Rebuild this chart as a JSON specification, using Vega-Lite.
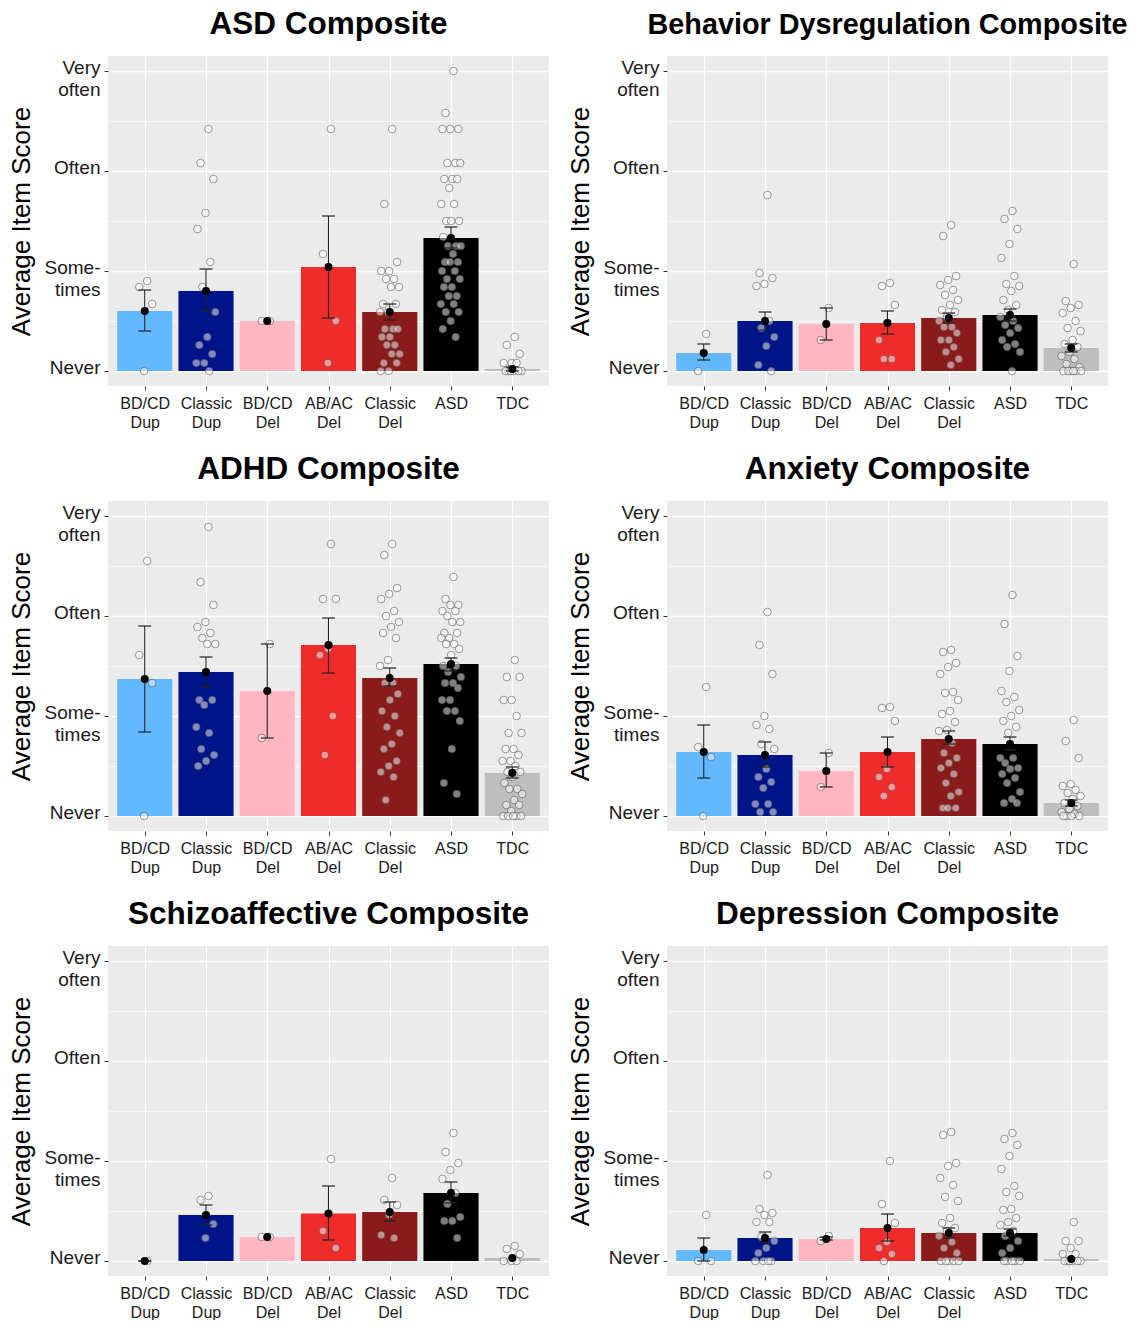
{
"$schema":"https://vega.github.io/schema/vega-lite/v6.json",
"padding":{"left":8,"top":8,"right":0,"bottom":0},
"data":{"values":[
{"p":"ASD","g":"BD/CD Dup","m":0.60,"lo":0.40,"hi":0.81},
{"p":"ASD","g":"Classic Dup","m":0.80,"lo":0.60,"hi":1.02},
{"p":"ASD","g":"BD/CD Del","m":0.50},
{"p":"ASD","g":"AB/AC Del","m":1.04,"lo":0.53,"hi":1.55},
{"p":"ASD","g":"Classic Del","m":0.59,"lo":0.51,"hi":0.67},
{"p":"ASD","g":"ASD","m":1.33,"lo":1.23,"hi":1.44},
{"p":"ASD","g":"TDC","m":0.02,"lo":0.0,"hi":0.04},
{"p":"BDR","g":"BD/CD Dup","m":0.18,"lo":0.11,"hi":0.27},
{"p":"BDR","g":"Classic Dup","m":0.50,"lo":0.41,"hi":0.59},
{"p":"BDR","g":"BD/CD Del","m":0.47,"lo":0.31,"hi":0.63},
{"p":"BDR","g":"AB/AC Del","m":0.48,"lo":0.37,"hi":0.60},
{"p":"BDR","g":"Classic Del","m":0.53,"lo":0.48,"hi":0.58},
{"p":"BDR","g":"ASD","m":0.56,"lo":0.50,"hi":0.62},
{"p":"BDR","g":"TDC","m":0.23,"lo":0.19,"hi":0.27},
{"p":"ADHD","g":"BD/CD Dup","m":1.37,"lo":0.84,"hi":1.90},
{"p":"ADHD","g":"Classic Dup","m":1.44,"lo":1.29,"hi":1.59},
{"p":"ADHD","g":"BD/CD Del","m":1.25,"lo":0.78,"hi":1.72},
{"p":"ADHD","g":"AB/AC Del","m":1.71,"lo":1.43,"hi":1.98},
{"p":"ADHD","g":"Classic Del","m":1.38,"lo":1.30,"hi":1.48},
{"p":"ADHD","g":"ASD","m":1.52,"lo":1.45,"hi":1.58},
{"p":"ADHD","g":"TDC","m":0.43,"lo":0.38,"hi":0.49},
{"p":"ANX","g":"BD/CD Dup","m":0.64,"lo":0.38,"hi":0.91},
{"p":"ANX","g":"Classic Dup","m":0.61,"lo":0.49,"hi":0.74},
{"p":"ANX","g":"BD/CD Del","m":0.45,"lo":0.29,"hi":0.63},
{"p":"ANX","g":"AB/AC Del","m":0.64,"lo":0.49,"hi":0.79},
{"p":"ANX","g":"Classic Del","m":0.77,"lo":0.72,"hi":0.85},
{"p":"ANX","g":"ASD","m":0.72,"lo":0.66,"hi":0.79},
{"p":"ANX","g":"TDC","m":0.13,"lo":0.10,"hi":0.16},
{"p":"SCZ","g":"BD/CD Dup","m":0.0,"lo":0.0,"hi":0.0},
{"p":"SCZ","g":"Classic Dup","m":0.46,"lo":0.36,"hi":0.56},
{"p":"SCZ","g":"BD/CD Del","m":0.24},
{"p":"SCZ","g":"AB/AC Del","m":0.475,"lo":0.21,"hi":0.75},
{"p":"SCZ","g":"Classic Del","m":0.49,"lo":0.40,"hi":0.59},
{"p":"SCZ","g":"ASD","m":0.68,"lo":0.58,"hi":0.79},
{"p":"SCZ","g":"TDC","m":0.03},
{"p":"DEP","g":"BD/CD Dup","m":0.11,"lo":0.0,"hi":0.23},
{"p":"DEP","g":"Classic Dup","m":0.23,"lo":0.18,"hi":0.29},
{"p":"DEP","g":"BD/CD Del","m":0.22,"lo":0.21,"hi":0.24},
{"p":"DEP","g":"AB/AC Del","m":0.33,"lo":0.20,"hi":0.47},
{"p":"DEP","g":"Classic Del","m":0.28,"lo":0.23,"hi":0.33},
{"p":"DEP","g":"ASD","m":0.28,"lo":0.25,"hi":0.32},
{"p":"DEP","g":"TDC","m":0.02},

{"p":"ASD","g":"BD/CD Dup","v":0.90},{"p":"ASD","g":"BD/CD Dup","v":0.84},{"p":"ASD","g":"BD/CD Dup","v":0.67},{"p":"ASD","g":"BD/CD Dup","v":0},
{"p":"ASD","g":"Classic Dup","v":2.42},{"p":"ASD","g":"Classic Dup","v":2.08},{"p":"ASD","g":"Classic Dup","v":1.92},{"p":"ASD","g":"Classic Dup","v":1.58},{"p":"ASD","g":"Classic Dup","v":1.42},{"p":"ASD","g":"Classic Dup","v":1.09},{"p":"ASD","g":"Classic Dup","v":0.84},{"p":"ASD","g":"Classic Dup","v":0.59},{"p":"ASD","g":"Classic Dup","v":0.34},{"p":"ASD","g":"Classic Dup","v":0.26},{"p":"ASD","g":"Classic Dup","v":0.17},{"p":"ASD","g":"Classic Dup","v":0.08},{"p":"ASD","g":"Classic Dup","v":0.08},{"p":"ASD","g":"Classic Dup","v":0},
{"p":"ASD","g":"BD/CD Del","v":0.5},{"p":"ASD","g":"BD/CD Del","v":0.5},
{"p":"ASD","g":"AB/AC Del","v":2.42},{"p":"ASD","g":"AB/AC Del","v":1.17},{"p":"ASD","g":"AB/AC Del","v":0.5},{"p":"ASD","g":"AB/AC Del","v":0.08},
{"p":"ASD","g":"Classic Del","v":2.42},{"p":"ASD","g":"Classic Del","v":1.67},{"p":"ASD","g":"Classic Del","v":1.09},{"p":"ASD","g":"Classic Del","v":1.0},{"p":"ASD","g":"Classic Del","v":1.0},{"p":"ASD","g":"Classic Del","v":0.92},{"p":"ASD","g":"Classic Del","v":0.92},{"p":"ASD","g":"Classic Del","v":0.84},{"p":"ASD","g":"Classic Del","v":0.84},{"p":"ASD","g":"Classic Del","v":0.67},{"p":"ASD","g":"Classic Del","v":0.67},{"p":"ASD","g":"Classic Del","v":0.59},{"p":"ASD","g":"Classic Del","v":0.59},{"p":"ASD","g":"Classic Del","v":0.42},{"p":"ASD","g":"Classic Del","v":0.42},{"p":"ASD","g":"Classic Del","v":0.42},{"p":"ASD","g":"Classic Del","v":0.34},{"p":"ASD","g":"Classic Del","v":0.34},{"p":"ASD","g":"Classic Del","v":0.26},{"p":"ASD","g":"Classic Del","v":0.26},{"p":"ASD","g":"Classic Del","v":0.17},{"p":"ASD","g":"Classic Del","v":0.17},{"p":"ASD","g":"Classic Del","v":0.08},{"p":"ASD","g":"Classic Del","v":0.08},{"p":"ASD","g":"Classic Del","v":0},{"p":"ASD","g":"Classic Del","v":0},
{"p":"ASD","g":"ASD","v":3.0},{"p":"ASD","g":"ASD","v":2.58},{"p":"ASD","g":"ASD","v":2.42},{"p":"ASD","g":"ASD","v":2.42},{"p":"ASD","g":"ASD","v":2.42},{"p":"ASD","g":"ASD","v":2.08},{"p":"ASD","g":"ASD","v":2.08},{"p":"ASD","g":"ASD","v":2.08},{"p":"ASD","g":"ASD","v":1.92},{"p":"ASD","g":"ASD","v":1.92},{"p":"ASD","g":"ASD","v":1.92},{"p":"ASD","g":"ASD","v":1.83},{"p":"ASD","g":"ASD","v":1.67},{"p":"ASD","g":"ASD","v":1.67},{"p":"ASD","g":"ASD","v":1.5},{"p":"ASD","g":"ASD","v":1.5},{"p":"ASD","g":"ASD","v":1.5},{"p":"ASD","g":"ASD","v":1.34},{"p":"ASD","g":"ASD","v":1.25},{"p":"ASD","g":"ASD","v":1.25},{"p":"ASD","g":"ASD","v":1.25},{"p":"ASD","g":"ASD","v":1.17},{"p":"ASD","g":"ASD","v":1.09},{"p":"ASD","g":"ASD","v":1.09},{"p":"ASD","g":"ASD","v":1.09},{"p":"ASD","g":"ASD","v":1.0},{"p":"ASD","g":"ASD","v":1.0},{"p":"ASD","g":"ASD","v":0.92},{"p":"ASD","g":"ASD","v":0.92},{"p":"ASD","g":"ASD","v":0.84},{"p":"ASD","g":"ASD","v":0.84},{"p":"ASD","g":"ASD","v":0.75},{"p":"ASD","g":"ASD","v":0.75},{"p":"ASD","g":"ASD","v":0.67},{"p":"ASD","g":"ASD","v":0.67},{"p":"ASD","g":"ASD","v":0.59},{"p":"ASD","g":"ASD","v":0.59},{"p":"ASD","g":"ASD","v":0.5},{"p":"ASD","g":"ASD","v":0.42},{"p":"ASD","g":"ASD","v":0.34},
{"p":"ASD","g":"TDC","v":0.34},{"p":"ASD","g":"TDC","v":0.26},{"p":"ASD","g":"TDC","v":0.17},{"p":"ASD","g":"TDC","v":0.08},{"p":"ASD","g":"TDC","v":0.08},{"p":"ASD","g":"TDC","v":0.08},{"p":"ASD","g":"TDC","v":0},{"p":"ASD","g":"TDC","v":0},{"p":"ASD","g":"TDC","v":0},{"p":"ASD","g":"TDC","v":0},{"p":"ASD","g":"TDC","v":0},{"p":"ASD","g":"TDC","v":0},

{"p":"BDR","g":"BD/CD Dup","v":0.37},{"p":"BDR","g":"BD/CD Dup","v":0},
{"p":"BDR","g":"Classic Dup","v":1.76},{"p":"BDR","g":"Classic Dup","v":0.98},{"p":"BDR","g":"Classic Dup","v":0.93},{"p":"BDR","g":"Classic Dup","v":0.87},{"p":"BDR","g":"Classic Dup","v":0.85},{"p":"BDR","g":"Classic Dup","v":0.5},{"p":"BDR","g":"Classic Dup","v":0.43},{"p":"BDR","g":"Classic Dup","v":0.34},{"p":"BDR","g":"Classic Dup","v":0.25},{"p":"BDR","g":"Classic Dup","v":0.06},{"p":"BDR","g":"Classic Dup","v":0},
{"p":"BDR","g":"BD/CD Del","v":0.63},{"p":"BDR","g":"BD/CD Del","v":0.31},
{"p":"BDR","g":"AB/AC Del","v":0.88},{"p":"BDR","g":"AB/AC Del","v":0.85},{"p":"BDR","g":"AB/AC Del","v":0.66},{"p":"BDR","g":"AB/AC Del","v":0.48},{"p":"BDR","g":"AB/AC Del","v":0.31},{"p":"BDR","g":"AB/AC Del","v":0.12},{"p":"BDR","g":"AB/AC Del","v":0.12},
{"p":"BDR","g":"Classic Del","v":1.46},{"p":"BDR","g":"Classic Del","v":1.35},{"p":"BDR","g":"Classic Del","v":0.95},{"p":"BDR","g":"Classic Del","v":0.91},{"p":"BDR","g":"Classic Del","v":0.86},{"p":"BDR","g":"Classic Del","v":0.81},{"p":"BDR","g":"Classic Del","v":0.76},{"p":"BDR","g":"Classic Del","v":0.71},{"p":"BDR","g":"Classic Del","v":0.66},{"p":"BDR","g":"Classic Del","v":0.61},{"p":"BDR","g":"Classic Del","v":0.59},{"p":"BDR","g":"Classic Del","v":0.54},{"p":"BDR","g":"Classic Del","v":0.5},{"p":"BDR","g":"Classic Del","v":0.44},{"p":"BDR","g":"Classic Del","v":0.44},{"p":"BDR","g":"Classic Del","v":0.38},{"p":"BDR","g":"Classic Del","v":0.31},{"p":"BDR","g":"Classic Del","v":0.31},{"p":"BDR","g":"Classic Del","v":0.24},{"p":"BDR","g":"Classic Del","v":0.19},{"p":"BDR","g":"Classic Del","v":0.12},{"p":"BDR","g":"Classic Del","v":0.06},
{"p":"BDR","g":"ASD","v":1.6},{"p":"BDR","g":"ASD","v":1.52},{"p":"BDR","g":"ASD","v":1.42},{"p":"BDR","g":"ASD","v":1.27},{"p":"BDR","g":"ASD","v":1.13},{"p":"BDR","g":"ASD","v":0.95},{"p":"BDR","g":"ASD","v":0.87},{"p":"BDR","g":"ASD","v":0.85},{"p":"BDR","g":"ASD","v":0.8},{"p":"BDR","g":"ASD","v":0.71},{"p":"BDR","g":"ASD","v":0.66},{"p":"BDR","g":"ASD","v":0.61},{"p":"BDR","g":"ASD","v":0.54},{"p":"BDR","g":"ASD","v":0.5},{"p":"BDR","g":"ASD","v":0.46},{"p":"BDR","g":"ASD","v":0.43},{"p":"BDR","g":"ASD","v":0.38},{"p":"BDR","g":"ASD","v":0.31},{"p":"BDR","g":"ASD","v":0.27},{"p":"BDR","g":"ASD","v":0.24},{"p":"BDR","g":"ASD","v":0.19},{"p":"BDR","g":"ASD","v":0},
{"p":"BDR","g":"TDC","v":1.07},{"p":"BDR","g":"TDC","v":0.7},{"p":"BDR","g":"TDC","v":0.66},{"p":"BDR","g":"TDC","v":0.63},{"p":"BDR","g":"TDC","v":0.58},{"p":"BDR","g":"TDC","v":0.5},{"p":"BDR","g":"TDC","v":0.43},{"p":"BDR","g":"TDC","v":0.4},{"p":"BDR","g":"TDC","v":0.31},{"p":"BDR","g":"TDC","v":0.27},{"p":"BDR","g":"TDC","v":0.24},{"p":"BDR","g":"TDC","v":0.19},{"p":"BDR","g":"TDC","v":0.15},{"p":"BDR","g":"TDC","v":0.12},{"p":"BDR","g":"TDC","v":0.07},{"p":"BDR","g":"TDC","v":0.04},{"p":"BDR","g":"TDC","v":0},{"p":"BDR","g":"TDC","v":0},{"p":"BDR","g":"TDC","v":0},{"p":"BDR","g":"TDC","v":0},{"p":"BDR","g":"TDC","v":0},{"p":"BDR","g":"TDC","v":0},

{"p":"ADHD","g":"BD/CD Dup","v":2.55},{"p":"ADHD","g":"BD/CD Dup","v":1.61},{"p":"ADHD","g":"BD/CD Dup","v":1.33},{"p":"ADHD","g":"BD/CD Dup","v":0},
{"p":"ADHD","g":"Classic Dup","v":2.89},{"p":"ADHD","g":"Classic Dup","v":2.34},{"p":"ADHD","g":"Classic Dup","v":2.11},{"p":"ADHD","g":"Classic Dup","v":1.94},{"p":"ADHD","g":"Classic Dup","v":1.89},{"p":"ADHD","g":"Classic Dup","v":1.83},{"p":"ADHD","g":"Classic Dup","v":1.78},{"p":"ADHD","g":"Classic Dup","v":1.72},{"p":"ADHD","g":"Classic Dup","v":1.72},{"p":"ADHD","g":"Classic Dup","v":1.16},{"p":"ADHD","g":"Classic Dup","v":1.16},{"p":"ADHD","g":"Classic Dup","v":1.11},{"p":"ADHD","g":"Classic Dup","v":0.89},{"p":"ADHD","g":"Classic Dup","v":0.83},{"p":"ADHD","g":"Classic Dup","v":0.67},{"p":"ADHD","g":"Classic Dup","v":0.61},{"p":"ADHD","g":"Classic Dup","v":0.55},{"p":"ADHD","g":"Classic Dup","v":0.5},
{"p":"ADHD","g":"BD/CD Del","v":1.72},{"p":"ADHD","g":"BD/CD Del","v":0.78},
{"p":"ADHD","g":"AB/AC Del","v":2.72},{"p":"ADHD","g":"AB/AC Del","v":2.17},{"p":"ADHD","g":"AB/AC Del","v":2.17},{"p":"ADHD","g":"AB/AC Del","v":1.67},{"p":"ADHD","g":"AB/AC Del","v":1.61},{"p":"ADHD","g":"AB/AC Del","v":1.0},{"p":"ADHD","g":"AB/AC Del","v":0.61},
{"p":"ADHD","g":"Classic Del","v":2.72},{"p":"ADHD","g":"Classic Del","v":2.61},{"p":"ADHD","g":"Classic Del","v":2.28},{"p":"ADHD","g":"Classic Del","v":2.22},{"p":"ADHD","g":"Classic Del","v":2.17},{"p":"ADHD","g":"Classic Del","v":2.05},{"p":"ADHD","g":"Classic Del","v":2.0},{"p":"ADHD","g":"Classic Del","v":1.94},{"p":"ADHD","g":"Classic Del","v":1.89},{"p":"ADHD","g":"Classic Del","v":1.83},{"p":"ADHD","g":"Classic Del","v":1.78},{"p":"ADHD","g":"Classic Del","v":1.56},{"p":"ADHD","g":"Classic Del","v":1.5},{"p":"ADHD","g":"Classic Del","v":1.33},{"p":"ADHD","g":"Classic Del","v":1.33},{"p":"ADHD","g":"Classic Del","v":1.22},{"p":"ADHD","g":"Classic Del","v":1.16},{"p":"ADHD","g":"Classic Del","v":1.05},{"p":"ADHD","g":"Classic Del","v":1.0},{"p":"ADHD","g":"Classic Del","v":0.89},{"p":"ADHD","g":"Classic Del","v":0.83},{"p":"ADHD","g":"Classic Del","v":0.72},{"p":"ADHD","g":"Classic Del","v":0.67},{"p":"ADHD","g":"Classic Del","v":0.55},{"p":"ADHD","g":"Classic Del","v":0.5},{"p":"ADHD","g":"Classic Del","v":0.44},{"p":"ADHD","g":"Classic Del","v":0.39},{"p":"ADHD","g":"Classic Del","v":0.16},
{"p":"ADHD","g":"ASD","v":2.39},{"p":"ADHD","g":"ASD","v":2.17},{"p":"ADHD","g":"ASD","v":2.11},{"p":"ADHD","g":"ASD","v":2.11},{"p":"ADHD","g":"ASD","v":2.05},{"p":"ADHD","g":"ASD","v":2.05},{"p":"ADHD","g":"ASD","v":2.0},{"p":"ADHD","g":"ASD","v":1.94},{"p":"ADHD","g":"ASD","v":1.94},{"p":"ADHD","g":"ASD","v":1.83},{"p":"ADHD","g":"ASD","v":1.83},{"p":"ADHD","g":"ASD","v":1.78},{"p":"ADHD","g":"ASD","v":1.78},{"p":"ADHD","g":"ASD","v":1.72},{"p":"ADHD","g":"ASD","v":1.72},{"p":"ADHD","g":"ASD","v":1.67},{"p":"ADHD","g":"ASD","v":1.61},{"p":"ADHD","g":"ASD","v":1.5},{"p":"ADHD","g":"ASD","v":1.5},{"p":"ADHD","g":"ASD","v":1.44},{"p":"ADHD","g":"ASD","v":1.39},{"p":"ADHD","g":"ASD","v":1.33},{"p":"ADHD","g":"ASD","v":1.33},{"p":"ADHD","g":"ASD","v":1.28},{"p":"ADHD","g":"ASD","v":1.16},{"p":"ADHD","g":"ASD","v":1.16},{"p":"ADHD","g":"ASD","v":1.05},{"p":"ADHD","g":"ASD","v":1.05},{"p":"ADHD","g":"ASD","v":0.95},{"p":"ADHD","g":"ASD","v":0.67},{"p":"ADHD","g":"ASD","v":0.33},{"p":"ADHD","g":"ASD","v":0.22},
{"p":"ADHD","g":"TDC","v":1.56},{"p":"ADHD","g":"TDC","v":1.39},{"p":"ADHD","g":"TDC","v":1.39},{"p":"ADHD","g":"TDC","v":1.16},{"p":"ADHD","g":"TDC","v":1.16},{"p":"ADHD","g":"TDC","v":1.0},{"p":"ADHD","g":"TDC","v":0.83},{"p":"ADHD","g":"TDC","v":0.83},{"p":"ADHD","g":"TDC","v":0.67},{"p":"ADHD","g":"TDC","v":0.67},{"p":"ADHD","g":"TDC","v":0.61},{"p":"ADHD","g":"TDC","v":0.55},{"p":"ADHD","g":"TDC","v":0.55},{"p":"ADHD","g":"TDC","v":0.5},{"p":"ADHD","g":"TDC","v":0.44},{"p":"ADHD","g":"TDC","v":0.44},{"p":"ADHD","g":"TDC","v":0.39},{"p":"ADHD","g":"TDC","v":0.33},{"p":"ADHD","g":"TDC","v":0.27},{"p":"ADHD","g":"TDC","v":0.27},{"p":"ADHD","g":"TDC","v":0.22},{"p":"ADHD","g":"TDC","v":0.16},{"p":"ADHD","g":"TDC","v":0.11},{"p":"ADHD","g":"TDC","v":0.11},{"p":"ADHD","g":"TDC","v":0.05},{"p":"ADHD","g":"TDC","v":0},{"p":"ADHD","g":"TDC","v":0},{"p":"ADHD","g":"TDC","v":0},{"p":"ADHD","g":"TDC","v":0},{"p":"ADHD","g":"TDC","v":0},

{"p":"ANX","g":"BD/CD Dup","v":1.29},{"p":"ANX","g":"BD/CD Dup","v":0.69},{"p":"ANX","g":"BD/CD Dup","v":0.59},{"p":"ANX","g":"BD/CD Dup","v":0},
{"p":"ANX","g":"Classic Dup","v":2.04},{"p":"ANX","g":"Classic Dup","v":1.71},{"p":"ANX","g":"Classic Dup","v":1.42},{"p":"ANX","g":"Classic Dup","v":1.0},{"p":"ANX","g":"Classic Dup","v":0.91},{"p":"ANX","g":"Classic Dup","v":0.87},{"p":"ANX","g":"Classic Dup","v":0.72},{"p":"ANX","g":"Classic Dup","v":0.67},{"p":"ANX","g":"Classic Dup","v":0.47},{"p":"ANX","g":"Classic Dup","v":0.39},{"p":"ANX","g":"Classic Dup","v":0.34},{"p":"ANX","g":"Classic Dup","v":0.28},{"p":"ANX","g":"Classic Dup","v":0.12},{"p":"ANX","g":"Classic Dup","v":0.12},{"p":"ANX","g":"Classic Dup","v":0.04},{"p":"ANX","g":"Classic Dup","v":0.04},
{"p":"ANX","g":"BD/CD Del","v":0.63},{"p":"ANX","g":"BD/CD Del","v":0.29},
{"p":"ANX","g":"AB/AC Del","v":1.09},{"p":"ANX","g":"AB/AC Del","v":1.08},{"p":"ANX","g":"AB/AC Del","v":0.95},{"p":"ANX","g":"AB/AC Del","v":0.47},{"p":"ANX","g":"AB/AC Del","v":0.39},{"p":"ANX","g":"AB/AC Del","v":0.29},{"p":"ANX","g":"AB/AC Del","v":0.2},
{"p":"ANX","g":"Classic Del","v":1.66},{"p":"ANX","g":"Classic Del","v":1.64},{"p":"ANX","g":"Classic Del","v":1.53},{"p":"ANX","g":"Classic Del","v":1.49},{"p":"ANX","g":"Classic Del","v":1.42},{"p":"ANX","g":"Classic Del","v":1.24},{"p":"ANX","g":"Classic Del","v":1.23},{"p":"ANX","g":"Classic Del","v":1.16},{"p":"ANX","g":"Classic Del","v":1.05},{"p":"ANX","g":"Classic Del","v":1.02},{"p":"ANX","g":"Classic Del","v":0.94},{"p":"ANX","g":"Classic Del","v":0.86},{"p":"ANX","g":"Classic Del","v":0.85},{"p":"ANX","g":"Classic Del","v":0.73},{"p":"ANX","g":"Classic Del","v":0.63},{"p":"ANX","g":"Classic Del","v":0.58},{"p":"ANX","g":"Classic Del","v":0.53},{"p":"ANX","g":"Classic Del","v":0.48},{"p":"ANX","g":"Classic Del","v":0.42},{"p":"ANX","g":"Classic Del","v":0.33},{"p":"ANX","g":"Classic Del","v":0.24},{"p":"ANX","g":"Classic Del","v":0.2},{"p":"ANX","g":"Classic Del","v":0.08},{"p":"ANX","g":"Classic Del","v":0.08},{"p":"ANX","g":"Classic Del","v":0.08},
{"p":"ANX","g":"ASD","v":2.21},{"p":"ANX","g":"ASD","v":1.92},{"p":"ANX","g":"ASD","v":1.6},{"p":"ANX","g":"ASD","v":1.45},{"p":"ANX","g":"ASD","v":1.25},{"p":"ANX","g":"ASD","v":1.19},{"p":"ANX","g":"ASD","v":1.14},{"p":"ANX","g":"ASD","v":1.06},{"p":"ANX","g":"ASD","v":1.0},{"p":"ANX","g":"ASD","v":0.95},{"p":"ANX","g":"ASD","v":0.89},{"p":"ANX","g":"ASD","v":0.83},{"p":"ANX","g":"ASD","v":0.58},{"p":"ANX","g":"ASD","v":0.58},{"p":"ANX","g":"ASD","v":0.53},{"p":"ANX","g":"ASD","v":0.48},{"p":"ANX","g":"ASD","v":0.47},{"p":"ANX","g":"ASD","v":0.42},{"p":"ANX","g":"ASD","v":0.38},{"p":"ANX","g":"ASD","v":0.33},{"p":"ANX","g":"ASD","v":0.24},{"p":"ANX","g":"ASD","v":0.17},{"p":"ANX","g":"ASD","v":0.13},{"p":"ANX","g":"ASD","v":0.13},
{"p":"ANX","g":"TDC","v":0.96},{"p":"ANX","g":"TDC","v":0.75},{"p":"ANX","g":"TDC","v":0.58},{"p":"ANX","g":"TDC","v":0.32},{"p":"ANX","g":"TDC","v":0.3},{"p":"ANX","g":"TDC","v":0.26},{"p":"ANX","g":"TDC","v":0.23},{"p":"ANX","g":"TDC","v":0.2},{"p":"ANX","g":"TDC","v":0.17},{"p":"ANX","g":"TDC","v":0.13},{"p":"ANX","g":"TDC","v":0.1},{"p":"ANX","g":"TDC","v":0.07},{"p":"ANX","g":"TDC","v":0.04},{"p":"ANX","g":"TDC","v":0.02},{"p":"ANX","g":"TDC","v":0},{"p":"ANX","g":"TDC","v":0},{"p":"ANX","g":"TDC","v":0},{"p":"ANX","g":"TDC","v":0},

{"p":"SCZ","g":"BD/CD Dup","v":0},
{"p":"SCZ","g":"Classic Dup","v":0.65},{"p":"SCZ","g":"Classic Dup","v":0.61},{"p":"SCZ","g":"Classic Dup","v":0.37},{"p":"SCZ","g":"Classic Dup","v":0.23},
{"p":"SCZ","g":"BD/CD Del","v":0.24},{"p":"SCZ","g":"BD/CD Del","v":0.24},
{"p":"SCZ","g":"AB/AC Del","v":1.02},{"p":"SCZ","g":"AB/AC Del","v":0.3},{"p":"SCZ","g":"AB/AC Del","v":0.13},
{"p":"SCZ","g":"Classic Del","v":0.83},{"p":"SCZ","g":"Classic Del","v":0.61},{"p":"SCZ","g":"Classic Del","v":0.56},{"p":"SCZ","g":"Classic Del","v":0.46},{"p":"SCZ","g":"Classic Del","v":0.26},{"p":"SCZ","g":"Classic Del","v":0.23},
{"p":"SCZ","g":"ASD","v":1.28},{"p":"SCZ","g":"ASD","v":1.09},{"p":"SCZ","g":"ASD","v":0.98},{"p":"SCZ","g":"ASD","v":0.91},{"p":"SCZ","g":"ASD","v":0.82},{"p":"SCZ","g":"ASD","v":0.68},{"p":"SCZ","g":"ASD","v":0.57},{"p":"SCZ","g":"ASD","v":0.44},{"p":"SCZ","g":"ASD","v":0.4},{"p":"SCZ","g":"ASD","v":0.4},{"p":"SCZ","g":"ASD","v":0.23},
{"p":"SCZ","g":"TDC","v":0.15},{"p":"SCZ","g":"TDC","v":0.12},{"p":"SCZ","g":"TDC","v":0.07},{"p":"SCZ","g":"TDC","v":0},{"p":"SCZ","g":"TDC","v":0},{"p":"SCZ","g":"TDC","v":0},

{"p":"DEP","g":"BD/CD Dup","v":0.46},{"p":"DEP","g":"BD/CD Dup","v":0},{"p":"DEP","g":"BD/CD Dup","v":0},
{"p":"DEP","g":"Classic Dup","v":0.86},{"p":"DEP","g":"Classic Dup","v":0.52},{"p":"DEP","g":"Classic Dup","v":0.48},{"p":"DEP","g":"Classic Dup","v":0.46},{"p":"DEP","g":"Classic Dup","v":0.39},{"p":"DEP","g":"Classic Dup","v":0.39},{"p":"DEP","g":"Classic Dup","v":0.24},{"p":"DEP","g":"Classic Dup","v":0.2},{"p":"DEP","g":"Classic Dup","v":0.13},{"p":"DEP","g":"Classic Dup","v":0.08},{"p":"DEP","g":"Classic Dup","v":0},{"p":"DEP","g":"Classic Dup","v":0},{"p":"DEP","g":"Classic Dup","v":0},{"p":"DEP","g":"Classic Dup","v":0},
{"p":"DEP","g":"BD/CD Del","v":0.25},{"p":"DEP","g":"BD/CD Del","v":0.2},
{"p":"DEP","g":"AB/AC Del","v":1.0},{"p":"DEP","g":"AB/AC Del","v":0.57},{"p":"DEP","g":"AB/AC Del","v":0.38},{"p":"DEP","g":"AB/AC Del","v":0.19},{"p":"DEP","g":"AB/AC Del","v":0.13},{"p":"DEP","g":"AB/AC Del","v":0.07},{"p":"DEP","g":"AB/AC Del","v":0},
{"p":"DEP","g":"Classic Del","v":1.29},{"p":"DEP","g":"Classic Del","v":1.26},{"p":"DEP","g":"Classic Del","v":0.98},{"p":"DEP","g":"Classic Del","v":0.95},{"p":"DEP","g":"Classic Del","v":0.83},{"p":"DEP","g":"Classic Del","v":0.76},{"p":"DEP","g":"Classic Del","v":0.64},{"p":"DEP","g":"Classic Del","v":0.6},{"p":"DEP","g":"Classic Del","v":0.43},{"p":"DEP","g":"Classic Del","v":0.38},{"p":"DEP","g":"Classic Del","v":0.33},{"p":"DEP","g":"Classic Del","v":0.3},{"p":"DEP","g":"Classic Del","v":0.25},{"p":"DEP","g":"Classic Del","v":0.19},{"p":"DEP","g":"Classic Del","v":0.13},{"p":"DEP","g":"Classic Del","v":0.08},{"p":"DEP","g":"Classic Del","v":0},{"p":"DEP","g":"Classic Del","v":0},{"p":"DEP","g":"Classic Del","v":0},{"p":"DEP","g":"Classic Del","v":0},{"p":"DEP","g":"Classic Del","v":0},
{"p":"DEP","g":"ASD","v":1.28},{"p":"DEP","g":"ASD","v":1.22},{"p":"DEP","g":"ASD","v":1.16},{"p":"DEP","g":"ASD","v":1.05},{"p":"DEP","g":"ASD","v":0.92},{"p":"DEP","g":"ASD","v":0.75},{"p":"DEP","g":"ASD","v":0.69},{"p":"DEP","g":"ASD","v":0.65},{"p":"DEP","g":"ASD","v":0.52},{"p":"DEP","g":"ASD","v":0.51},{"p":"DEP","g":"ASD","v":0.43},{"p":"DEP","g":"ASD","v":0.39},{"p":"DEP","g":"ASD","v":0.36},{"p":"DEP","g":"ASD","v":0.3},{"p":"DEP","g":"ASD","v":0.25},{"p":"DEP","g":"ASD","v":0.2},{"p":"DEP","g":"ASD","v":0.13},{"p":"DEP","g":"ASD","v":0.08},{"p":"DEP","g":"ASD","v":0},{"p":"DEP","g":"ASD","v":0},{"p":"DEP","g":"ASD","v":0},{"p":"DEP","g":"ASD","v":0},{"p":"DEP","g":"ASD","v":0},
{"p":"DEP","g":"TDC","v":0.39},{"p":"DEP","g":"TDC","v":0.2},{"p":"DEP","g":"TDC","v":0.2},{"p":"DEP","g":"TDC","v":0.13},{"p":"DEP","g":"TDC","v":0.07},{"p":"DEP","g":"TDC","v":0.07},{"p":"DEP","g":"TDC","v":0},{"p":"DEP","g":"TDC","v":0},{"p":"DEP","g":"TDC","v":0},{"p":"DEP","g":"TDC","v":0},{"p":"DEP","g":"TDC","v":0},{"p":"DEP","g":"TDC","v":0}
]},
"facet":{"field":"p","type":"nominal","sort":["ASD","BDR","ADHD","ANX","SCZ","DEP"],
  "header":{"title":null,"labelFontSize":{"expr":"parent.p == 'BDR' ? 28.8 : 31.5"},"labelFontWeight":"bold","labelColor":"black","labelPadding":16,
    "labelExpr":"datum.value=='ASD'?'ASD Composite':datum.value=='BDR'?'Behavior Dysregulation Composite':datum.value=='ADHD'?'ADHD Composite':datum.value=='ANX'?'Anxiety Composite':datum.value=='SCZ'?'Schizoaffective Composite':'Depression Composite'"}},
"columns":2,
"bounds":"flush",
"spacing":{"row":115,"column":118},
"resolve":{"axis":{"x":"independent","y":"independent"}},
"spec":{
 "width":441,"height":330,
 "transform":[
   {"calculate":"indexof(['BD/CD Dup','Classic Dup','BD/CD Del','AB/AC Del','Classic Del','ASD','TDC'], datum.g)","as":"xi"},
   {"calculate":"datum.xi-0.45","as":"bx0"},
   {"calculate":"datum.xi+0.45","as":"bx1"},
   {"calculate":"datum.xi-0.105","as":"cx0"},
   {"calculate":"datum.xi+0.105","as":"cx1"}
 ],
 "layer":[
  {"transform":[{"filter":"isValid(datum.m)"}],
   "mark":{"type":"rect"},
   "encoding":{
     "x":{"field":"bx0","type":"quantitative","title":null,
       "scale":{"domain":[-0.6,6.6],"nice":false,"zero":false},
       "axis":{"values":[0,1,2,3,4,5,6],
         "labelExpr":"split(['BD/CD Dup','Classic Dup','BD/CD Del','AB/AC Del','Classic Del','ASD','TDC'][datum.value],' ')",
         "labelFontSize":16,"labelLineHeight":19,"labelPadding":5,"labelAngle":0,"labelBaseline":"top","labelFlush":false,"labelOverlap":false,
         "gridColor":"white","gridWidth":1.2,"labelColor":"#1a1a1a"}},
     "x2":{"field":"bx1"},
     "y":{"field":"m","type":"quantitative","title":"Average Item Score",
       "scale":{"domain":[-0.15,3.15],"nice":false,"zero":false},
       "axis":{"values":[0,0.5,1,1.5,2,2.5,3],
         "labelExpr":"datum.value==3?['Very','often']:datum.value==2?'Often':datum.value==1?['Some-','times']:datum.value==0?'Never':''",
         "labelFontSize":19,"labelLineHeight":22,"labelPadding":4,"labelOffset":-4,"labelFlush":false,"labelOverlap":false,"labelColor":"#1a1a1a",
         "titleFontSize":26,"titleFontWeight":"normal","titleColor":"black","titlePadding":10,
         "gridColor":"white",
         "gridWidth":{"condition":{"test":"datum.value % 1 != 0","value":0.6},"value":1.3},
         "tickColor":{"condition":{"test":"datum.value % 1 != 0","value":"transparent"},"value":"#333"}}},
     "y2":{"datum":0},
     "color":{"field":"g","type":"nominal","legend":null,
       "scale":{"domain":["BD/CD Dup","Classic Dup","BD/CD Del","AB/AC Del","Classic Del","ASD","TDC"],
                "range":["#63B8FF","#00148A","#FFB6C1","#EE2C2C","#8B1A1A","#000000","#BEBEBE"]}}}},
  {"transform":[{"filter":"isValid(datum.v)"},
     {"window":[{"op":"row_number","as":"i"}],"groupby":["p","g"]},
     {"calculate":"datum.xi + ((datum.i*0.618034)%1-0.5)*0.34","as":"xj"}],
   "mark":{"type":"circle","size":58,"fill":"white","fillOpacity":0.5,"stroke":"#444","strokeOpacity":0.65,"strokeWidth":0.8},
   "encoding":{
     "x":{"field":"xj","type":"quantitative","title":null},
     "y":{"field":"v","type":"quantitative","title":"Average Item Score"}}},
  {"transform":[{"filter":"isValid(datum.lo)"}],
   "mark":{"type":"rule","color":"#222","strokeWidth":1.1},
   "encoding":{
     "x":{"field":"xi","type":"quantitative","title":null},
     "y":{"field":"lo","type":"quantitative","title":"Average Item Score"},
     "y2":{"field":"hi"}}},
  {"transform":[{"filter":"isValid(datum.lo)"}],
   "mark":{"type":"rule","color":"#222","strokeWidth":1.2},
   "encoding":{
     "x":{"field":"cx0","type":"quantitative","title":null},
     "x2":{"field":"cx1"},
     "y":{"field":"lo","type":"quantitative","title":"Average Item Score"}}},
  {"transform":[{"filter":"isValid(datum.hi)"}],
   "mark":{"type":"rule","color":"#222","strokeWidth":1.2},
   "encoding":{
     "x":{"field":"cx0","type":"quantitative","title":null},
     "x2":{"field":"cx1"},
     "y":{"field":"hi","type":"quantitative","title":"Average Item Score"}}},
  {"transform":[{"filter":"isValid(datum.m)"}],
   "mark":{"type":"circle","size":64,"color":"black","opacity":1},
   "encoding":{
     "x":{"field":"xi","type":"quantitative","title":null},
     "y":{"field":"m","type":"quantitative","title":"Average Item Score"}}}
 ]
},
"config":{
  "font":"Liberation Sans",
  "view":{"fill":"#EBEBEB","stroke":null},
  "axis":{"domain":false,"grid":true,"tickColor":"#333","tickSize":4}
}
}
